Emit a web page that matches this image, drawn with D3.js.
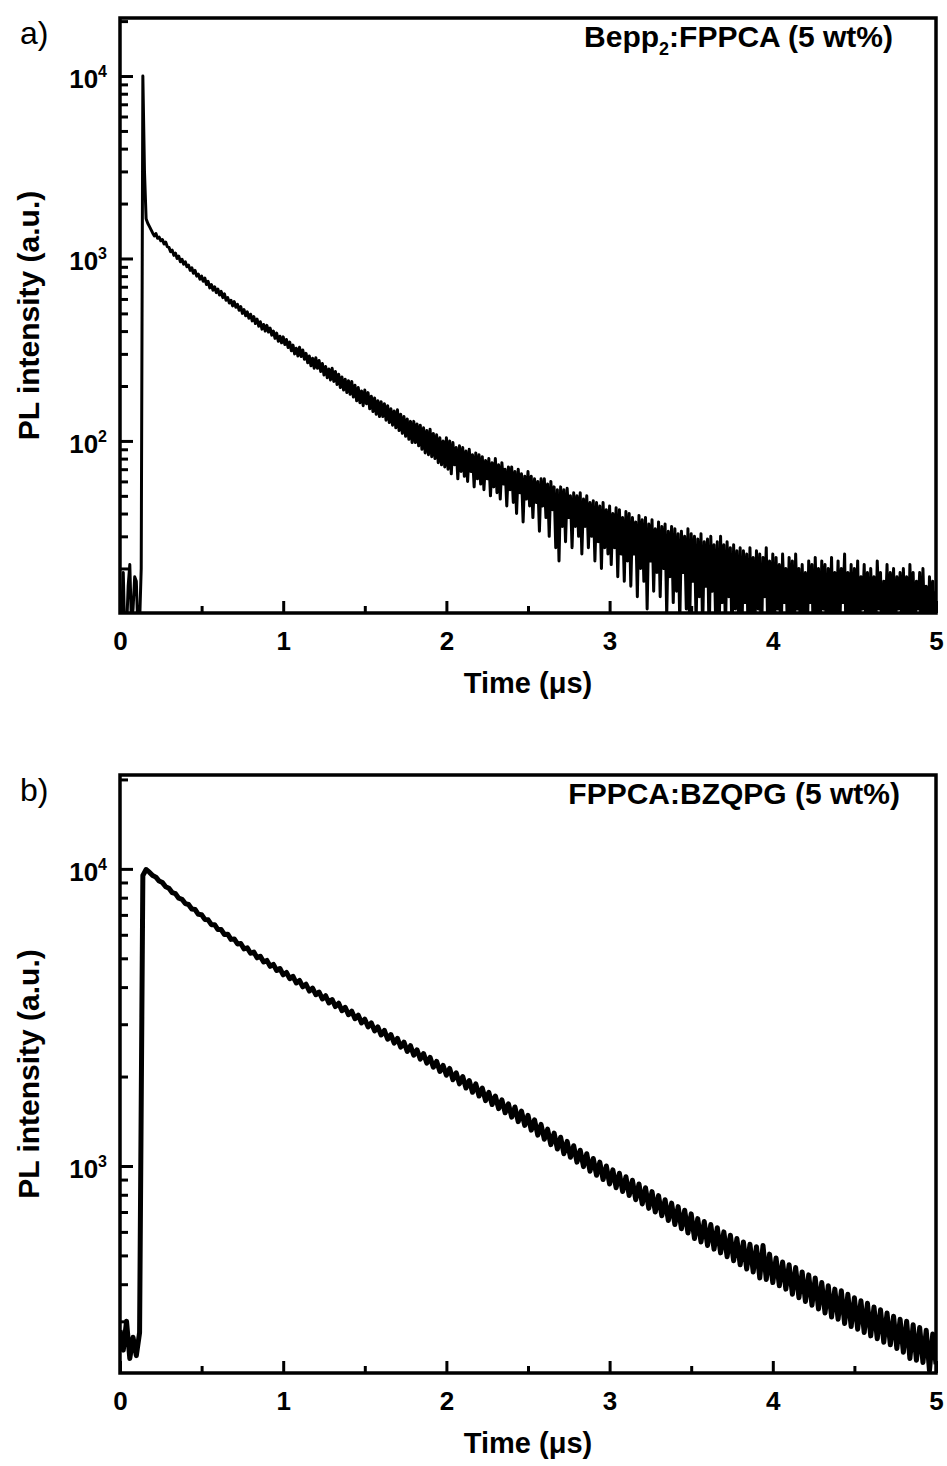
<!DOCTYPE html>
<html>
<head>
<meta charset="utf-8">
<script src="https://cdn.jsdelivr.net/npm/d3@7"></script>
<style>
  body { margin: 0; background: #fff; }
  text { font-family: "Liberation Sans", Arial, sans-serif; }
</style>
</head>
<body>
<div id="chart"></div>
<script>
// channel widths of the decay traces (µs), first channel at t = 0
var stepA = 0.01;
var stepB = 0.02;

// a) Bepp2:FPPCA (5 wt%) -- PL counts per channel (one row = 0.1 µs)
var decayA = [
  14, 11, 19, 8, 9, 16, 21, 10, 12, 18,
  17, 9, 10, 20, 10000, 3000, 1650, 1560, 1500, 1440,
  1380, 1330, 1370, 1290, 1310, 1250, 1270, 1200, 1230, 1160,
  1150, 1090, 1110, 1040, 1070, 1000, 1030, 960, 990, 930,
  960, 900, 920, 860, 890, 830, 860, 800, 820, 770,
  800, 750, 780, 720, 750, 690, 720, 670, 700, 650,
  680, 630, 660, 610, 640, 590, 610, 570, 590, 550,
  580, 540, 560, 520, 545, 500, 525, 485, 510, 470,
  495, 455, 480, 440, 465, 425, 450, 410, 435, 400,
  430, 395, 415, 380, 400, 365, 390, 352, 375, 345,
  372, 338, 360, 325, 348, 312, 335, 300, 322, 292,
  326, 290, 315, 280, 302, 268, 292, 258, 284, 250,
  286, 250, 276, 240, 266, 230, 256, 222, 248, 216,
  250, 212, 240, 204, 232, 196, 224, 190, 218, 184,
  214, 180, 212, 174, 202, 166, 196, 162, 188, 156,
  190, 160, 184, 150, 176, 145, 172, 140, 166, 136,
  164, 136, 160, 130, 156, 126, 150, 122, 146, 118,
  148, 114, 140, 110, 136, 106, 132, 102, 128, 98,
  128, 98, 124, 94, 122, 90, 118, 86, 114, 84,
  116, 82, 110, 80, 108, 76, 104, 74, 100, 72,
  104, 70, 100, 66, 98, 74, 92, 62, 94, 68,
  92, 64, 88, 60, 90, 68, 84, 56, 86, 62,
  84, 58, 82, 54, 78, 62, 80, 50, 76, 56,
  80, 52, 74, 48, 76, 58, 70, 44, 72, 54,
  72, 46, 68, 40, 70, 52, 66, 36, 64, 48,
  68, 44, 64, 38, 62, 46, 60, 32, 62, 44,
  62, 38, 58, 30, 60, 42, 56, 26, 54, 22,
  56, 34, 54, 28, 55, 38, 50, 26, 52, 34,
  50, 30, 52, 24, 48, 34, 50, 26, 46, 30,
  47, 22, 46, 28, 44, 20, 46, 26, 42, 24,
  44, 21, 40, 26, 43, 18, 42, 24, 38, 17,
  41, 22, 40, 16, 38, 24, 36, 14, 39, 20,
  37, 17, 38, 12, 35, 22, 37, 15, 33, 19,
  36, 14, 34, 20, 35, 11, 32, 18, 34, 13,
  33, 15, 31, 10, 32, 19, 30, 12, 33, 9,
  31, 17, 30, 10, 29, 14, 31, 9, 28, 16,
  29, 8, 30, 15, 27, 10, 28, 7, 30, 13,
  27, 9, 28, 14, 26, 8, 27, 12, 25, 10,
  26, 8, 25, 13, 24, 7, 26, 11, 23, 9,
  25, 12, 24, 7, 23, 14, 26, 8, 22, 10,
  24, 8, 23, 12, 21, 7, 24, 13, 20, 9,
  23, 11, 22, 7, 24, 12, 20, 8, 21, 10,
  19, 7, 22, 13, 21, 6, 23, 11, 20, 8,
  22, 12, 21, 7, 20, 10, 23, 8, 19, 11,
  22, 9, 20, 13, 24, 7, 19, 10, 21, 8,
  20, 11, 22, 7, 18, 12, 21, 9, 19, 7,
  20, 10, 18, 8, 22, 12, 19, 7, 17, 11,
  21, 8, 19, 11, 20, 7, 18, 12, 19, 9,
  20, 10, 18, 7, 21, 11, 19, 8, 17, 12,
  19, 8, 20, 10, 16, 7, 18, 11, 17, 9,
  15];

// b) FPPCA:BZQPG (5 wt%) (one row = 0.2 µs)
var decayB = [280, 240, 300, 225, 265, 230, 275, 9500, 9950, 9750,
  9500, 9380, 9100, 8990, 8700, 8600, 8320, 8250, 7970, 7900,
  7640, 7590, 7330, 7300, 7030, 7010, 6760, 6740, 6490, 6490,
  6250, 6250, 6010, 6030, 5790, 5810, 5590, 5610, 5380, 5420,
  5200, 5250, 5020, 5080, 4860, 4920, 4700, 4770, 4550, 4620,
  4400, 4480, 4270, 4350, 4130, 4210, 4010, 4090, 3880, 3970,
  3770, 3850, 3650, 3740, 3540, 3630, 3440, 3530, 3330, 3420,
  3230, 3320, 3130, 3220, 3030, 3120, 2940, 3030, 2850, 2940,
  2760, 2860, 2670, 2770, 2590, 2690, 2510, 2610, 2430, 2540,
  2360, 2460, 2290, 2390, 2220, 2320, 2150, 2250, 2080, 2180,
  2020, 2130, 1950, 2060, 1890, 2000, 1830, 1940, 1770, 1890,
  1720, 1830, 1660, 1770, 1610, 1720, 1560, 1670, 1510, 1620,
  1460, 1580, 1410, 1530, 1370, 1480, 1320, 1430, 1270, 1380,
  1230, 1330, 1180, 1290, 1140, 1250, 1100, 1210, 1070, 1170,
  1030, 1130, 995, 1100, 960, 1060, 930, 1030, 900, 1000,
  870, 970, 845, 945, 820, 920, 795, 895, 770, 870,
  745, 845, 720, 820, 700, 795, 680, 770, 655, 750,
  635, 730, 615, 710, 595, 690, 570, 665, 555, 650,
  540, 635, 525, 620, 510, 600, 495, 585, 480, 570,
  465, 555, 450, 545, 440, 535, 420, 540, 415, 505,
  405, 490, 395, 475, 385, 465, 370, 455, 360, 440,
  350, 430, 340, 420, 330, 405, 320, 395, 310, 385,
  305, 380, 295, 370, 288, 360, 282, 352, 275, 345,
  268, 335, 262, 328, 255, 320, 250, 312, 243, 305,
  236, 300, 225, 292, 222, 286, 218, 280, 205, 272,
  215];

var xTicks = [0, 1, 2, 3, 4, 5];
var xMinorTicks = [0.5, 1.5, 2.5, 3.5, 4.5];
var yDecadesA = [100, 1000, 10000];
var yDecadesB = [1000, 10000];

var svg = d3.select("#chart").append("svg")
    .attr("width", 947)
    .attr("height", 1466);

var left = 120, right = 936;

function drawPanel(p) {
    var g = svg.append("g");

    var x = d3.scaleLinear().domain([0, 5]).range([left, right]);
    var y = d3.scaleLog().domain(p.yDomain).range([p.bottom, p.top]);

    var clipId = "clip" + p.letter;
    g.append("clipPath").attr("id", clipId)
        .append("rect")
        .attr("x", left).attr("y", p.top)
        .attr("width", right - left).attr("height", p.bottom - p.top);

    var line = d3.line()
        .x(function(d, i) { return x(i * p.step); })
        .y(function(d) { return y(d); });

    g.append("path")
        .datum(p.values)
        .attr("clip-path", "url(#" + clipId + ")")
        .attr("fill", "none")
        .attr("stroke", "#000")
        .attr("stroke-width", p.lineWidth)
        .attr("stroke-linejoin", "round")
        .attr("d", line);

    // bottom axis, ticks pointing inwards
    var gx = g.append("g").attr("transform", "translate(0," + p.bottom + ")")
        .call(d3.axisBottom(x).tickValues(xTicks).tickSize(-12).tickSizeOuter(0)
            .tickPadding(19).tickFormat(d3.format("d")));
    g.append("g").attr("transform", "translate(0," + p.bottom + ")")
        .call(d3.axisBottom(x).tickValues(xMinorTicks).tickSize(-7).tickSizeOuter(0).tickFormat(""));

    // left axis: decades + minor ticks
    var minors = y.ticks().filter(function(v) { return p.decades.indexOf(v) < 0; });
    g.append("g").attr("transform", "translate(" + left + ",0)")
        .call(d3.axisLeft(y).tickValues(p.decades).tickSize(-13).tickSizeOuter(0).tickFormat(""));
    g.append("g").attr("transform", "translate(" + left + ",0)")
        .call(d3.axisLeft(y).tickValues(minors).tickSize(-8).tickSizeOuter(0).tickFormat(""));

    g.selectAll(".domain").remove();
    g.selectAll(".tick line").attr("stroke", "#000").attr("stroke-width", 3);
    gx.selectAll("text")
        .attr("fill", "#000")
        .style("font-size", "26px")
        .style("font-weight", "bold")
        .style("font-family", "'Liberation Sans', Arial, sans-serif");

    // 10^n labels
    var lab = g.selectAll(".ylab").data(p.decades).enter().append("text")
        .attr("class", "ylab")
        .attr("x", 107)
        .attr("y", function(d) { return y(d) + 12; })
        .attr("text-anchor", "end")
        .style("font-size", "26px")
        .style("font-weight", "bold");
    lab.append("tspan").text("10");
    lab.append("tspan")
        .attr("dy", -11)
        .style("font-size", "16px")
        .text(function(d) { return Math.round(Math.log10(d)); });

    // frame
    g.append("rect")
        .attr("x", left).attr("y", p.top)
        .attr("width", right - left).attr("height", p.bottom - p.top)
        .attr("fill", "none")
        .attr("stroke", "#000")
        .attr("stroke-width", 3.5);

    // axis titles
    g.append("text")
        .attr("x", (left + right) / 2)
        .attr("y", p.bottom + 80)
        .attr("text-anchor", "middle")
        .style("font-size", "29px")
        .style("font-weight", "bold")
        .text("Time (\u03bcs)");

    g.append("text")
        .attr("transform", "translate(39," + ((p.top + p.bottom) / 2) + ") rotate(-90)")
        .attr("text-anchor", "middle")
        .style("font-size", "30px")
        .style("font-weight", "bold")
        .text("PL intensity (a.u.)");

    // panel letter
    g.append("text")
        .attr("x", 20)
        .attr("y", p.top + 26)
        .style("font-size", "32px")
        .text(p.letter + ")");

    // sample label
    var ann = g.append("text")
        .attr("x", p.annX)
        .attr("y", p.top + 29)
        .attr("text-anchor", "end")
        .style("font-size", "30px")
        .style("font-weight", "bold");
    p.annotation.forEach(function(part) {
        ann.append("tspan")
            .attr("dy", part.dy)
            .style("font-size", part.size)
            .text(part.text);
    });
}

drawPanel({
    letter: "a", top: 18, bottom: 613, yDomain: [11.4, 20800],
    values: decayA, step: stepA, decades: yDecadesA, lineWidth: 3, annX: 893,
    annotation: [
        {text: "Bepp", dy: 0, size: "30px"},
        {text: "2", dy: 8, size: "18px"},
        {text: ":FPPCA (5 wt%)", dy: -8, size: "30px"}
    ]
});

drawPanel({
    letter: "b", top: 775, bottom: 1373, yDomain: [201, 20700],
    values: decayB, step: stepB, decades: yDecadesB, lineWidth: 5, annX: 900,
    annotation: [
        {text: "FPPCA:BZQPG (5 wt%)", dy: 0, size: "30px"}
    ]
});
</script>
</body>
</html>
